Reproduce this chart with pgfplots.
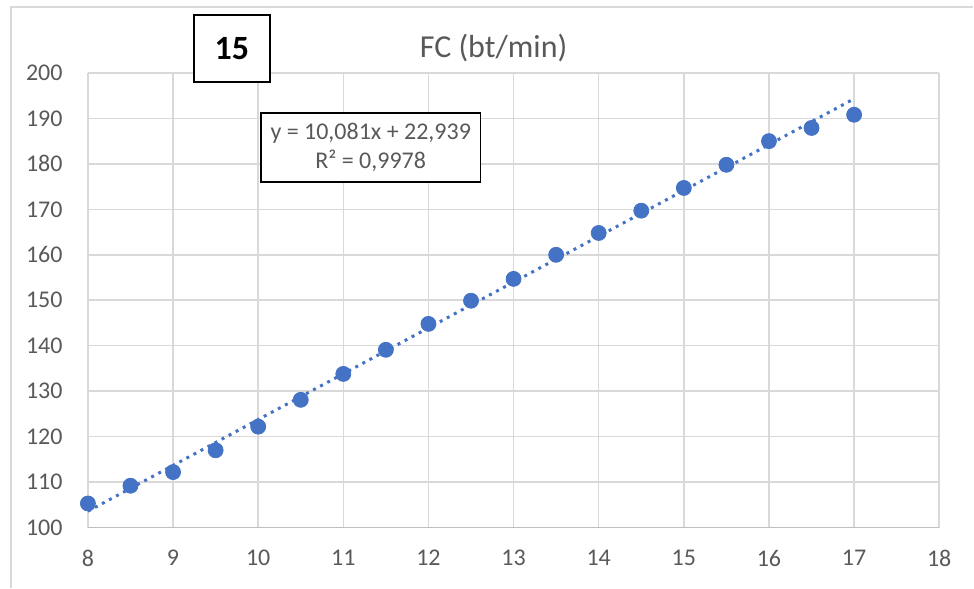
\documentclass[border=0pt]{standalone}
\usepackage{pgfplots}
\pgfplotsset{compat=1.18}
\usepackage{fontspec}
\setmainfont{Carlito}
\definecolor{ser}{HTML}{4472C4}
\definecolor{gridc}{HTML}{D9D9D9}
\definecolor{txt}{HTML}{595959}
\definecolor{axc}{HTML}{BFBFBF}
\begin{document}
\begin{tikzpicture}
\path (0,0) rectangle (487pt,294pt);
\draw[gridc, line width=0.8pt] (5.5pt,0) -- (5.5pt,290.5pt) -- (487pt,290.5pt);
\begin{axis}[
  at={(44pt,30pt)}, anchor=south west,
  scale only axis, width=426pt, height=227.5pt,
  xmin=8, xmax=18, ymin=100, ymax=200,
  xtick={8,9,...,18}, ytick={100,110,...,200},
  grid=major, grid style={gridc, line width=0.75pt},
  axis line style={draw=none},
  major tick length=0pt,
  tick label style={font=\fontsize{12}{14}\selectfont, text=txt},
  /pgf/number format/assume math mode=true,
  /pgf/number format/1000 sep={},
  yticklabel style={anchor=east, inner sep=0pt, xshift=-12.5pt},
  xticklabel style={anchor=north, inner sep=0pt, yshift=-11pt},
  clip=false,
]
\draw[axc, line width=0.75pt] (axis cs:8,100) -- (axis cs:18,100);
\addplot[only marks, mark=*, mark size=3.75pt, mark options={fill=ser, draw=ser}] coordinates {
(8,105.3) (8.5,109.2) (9,112.2) (9.5,117) (10,122.2) (10.5,128.1) (11,133.8) (11.5,139.1)
(12,144.8) (12.5,149.9) (13,154.7) (13.5,160) (14,164.8) (14.5,169.7) (15,174.7)
(15.5,179.8) (16,185) (16.5,187.9) (17,190.8)
};
\addplot[ser, line width=1.5pt, dash pattern=on 1.5pt off 2.5pt] coordinates {
(8,103.587) (17,194.316)
};
\end{axis}
\node[text=txt, font=\fontsize{16}{19}\selectfont] at (247pt,270pt) {FC (bt/min)};
\node[draw=black, line width=1pt, fill=white, minimum width=38pt, minimum height=33.5pt, font=\fontsize{17}{20}\selectfont\bfseries] at (116pt,269.75pt) {15};
\node[draw=black, line width=0.8pt, fill=white, minimum width=110pt, minimum height=34.5pt, align=center, text=txt, font=\fontsize{12}{14.5}\selectfont, inner sep=1pt] at (185.5pt,220.25pt) {y = 10,081x + 22,939\\R² = 0,9978};
\end{tikzpicture}
\end{document}
